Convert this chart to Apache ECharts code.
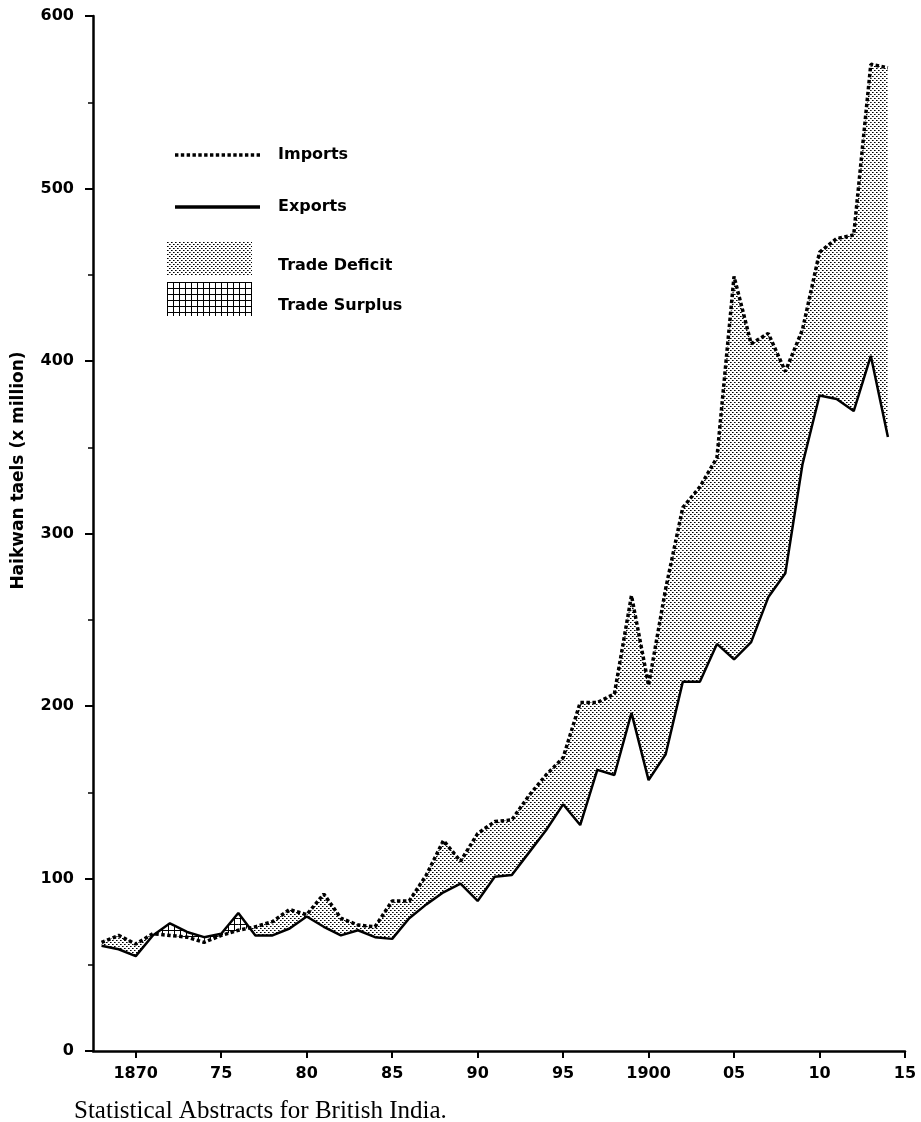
<!DOCTYPE html>
<html>
<head>
<meta charset="utf-8">
<script src="https://cdn.jsdelivr.net/npm/echarts@6/dist/echarts.min.js"></script>
<style>
html,body{margin:0;padding:0;background:#fff;}
#chart{width:921px;height:1122px;}
</style>
</head>
<body>
<div id="chart"></div>
<script>
const years = [1868,1869,1870,1871,1872,1873,1874,1875,1876,1877,1878,1879,1880,1881,1882,1883,1884,1885,1886,1887,1888,1889,1890,1891,1892,1893,1894,1895,1896,1897,1898,1899,1900,1901,1902,1903,1904,1905,1906,1907,1908,1909,1910,1911,1912,1913,1914];
const imports = [63,67,62,68,67,66,63,67,70,72,75,82,79,91,77,73,72,87,87,102,122,110,126,133,134,148,160,170,202,202,207,264,212,268,315,327,344,449,410,416,394,418,463,471,473,572,570];
const exports = [61,59,55,67,74,69,66,68,80,67,67,71,78,72,67,70,66,65,77,85,92,97,87,101,102,115,128,143,131,163,160,196,157,172,214,214,236,227,237,263,277,340,380,378,371,403,356];
const xTickValues = [1870,1875,1880,1885,1890,1895,1900,1905,1910,1915];
const xTickLabels = ['1870','75','80','85','90','95','1900','05','10','15'];
const yTicks = [0,100,200,300,400,500,600];
const yAxisTitle = 'Haikwan taels (x million)';
const sourceText = 'Statistical Abstracts for British India.';

function makeStipple(){
  const c=document.createElement('canvas'); c.width=4; c.height=4;
  const g=c.getContext('2d');
  g.fillStyle='#fff'; g.fillRect(0,0,4,4);
  g.fillStyle='#000'; g.fillRect(0,0,1,1); g.fillRect(2,2,1,1);
  g.fillStyle='#666'; g.fillRect(1,0,1,1); g.fillRect(3,2,1,1);
  return {image:c, repeat:'repeat'};
}
function makeHatch(){
  const c=document.createElement('canvas'); c.width=6; c.height=6;
  const g=c.getContext('2d');
  g.fillStyle='#fff'; g.fillRect(0,0,6,6);
  g.fillStyle='#000'; g.fillRect(0,0,6,1); g.fillRect(0,0,1,6);
  return {image:c, repeat:'repeat'};
}
const stipple = makeStipple();
const hatch = makeHatch();

// legend icon for the dotted line: a row of small squares
let dotPath = 'path://';
for (let k = 0; k < 15; k++) { dotPath += 'M' + (k*6) + ',0h3.5v3.5h-3.5z'; }

const segData = years.slice(0,-1).map((y,i)=>[y,i]);

function fillSeries(name, sign, pattern){
  return {
    type:'custom', name:name, silent:true, z:1,
    itemStyle:{color:pattern},
    encode:{x:0,y:1},
    data:segData,
    renderItem:function(params, api){
      const i = api.value(1);
      const x0 = years[i], x1 = years[i+1];
      const d0 = imports[i]-exports[i], d1 = imports[i+1]-exports[i+1];
      const A0 = api.coord([x0, imports[i]]), A1 = api.coord([x1, imports[i+1]]);
      const B0 = api.coord([x0, exports[i]]), B1 = api.coord([x1, exports[i+1]]);
      const polys = [];
      if (d0*d1 >= 0){
        const s = (d0+d1) > 0 ? 1 : -1;
        if (s === sign && (d0 !== 0 || d1 !== 0)) polys.push([A0,A1,B1,B0]);
      } else {
        const t = d0/(d0-d1);
        const xc = x0 + t*(x1-x0);
        const yc = imports[i] + t*(imports[i+1]-imports[i]);
        const C = api.coord([xc, yc]);
        if ((d0>0?1:-1) === sign) polys.push([A0,C,B0]);
        if ((d1>0?1:-1) === sign) polys.push([C,A1,B1]);
      }
      return {type:'group', children: polys.map(p=>({type:'polygon', shape:{points:p}, style:{fill:pattern, stroke:null}}))};
    }
  };
}

const chart = echarts.init(document.getElementById('chart'), null, {renderer:'canvas'});
const font = 'DejaVu Sans';
chart.setOption({
  backgroundColor:'#fff',
  animation:false,
  title:{
    text:sourceText, left:74, top:1099, padding:0,
    textStyle:{fontFamily:'Liberation Serif', fontSize:25, fontWeight:'normal', color:'#000'}
  },
  grid:{left:93, right:16, top:16, bottom:71},
  legend:[
    {
      orient:'vertical', left:175, top:147, padding:0, itemWidth:85, itemHeight:3.5, itemGap:36,
      selectedMode:false, symbolKeepAspect:false,
      textStyle:{fontFamily:font, fontSize:16, lineHeight:16, fontWeight:'bold', color:'#000', padding:[0,0,0,13]},
      data:[
        {name:'Imports', icon:dotPath, itemStyle:{color:'#000'}},
        {name:'Exports', icon:'rect', itemStyle:{color:'#000'}}
      ]
    },
    {
      orient:'vertical', left:167, top:242, padding:0, itemWidth:85, itemHeight:34, itemGap:6,
      selectedMode:false,
      formatter:'{t|{name}}',
      textStyle:{
        fontFamily:font, fontSize:16, fontWeight:'bold', color:'#000',
        rich:{t:{fontFamily:font, fontSize:16, fontWeight:'bold', color:'#000', padding:[13,0,0,21]}}
      },
      data:[
        {name:'Trade Deficit', icon:'rect', itemStyle:{color:stipple}},
        {name:'Trade Surplus', icon:'rect', itemStyle:{color:hatch}}
      ]
    }
  ],
  xAxis:{
    type:'value', min:1867.5, max:1915,
    axisLine:{lineStyle:{color:'#000', width:2.5}},
    axisTick:{show:true, length:7, lineStyle:{color:'#000', width:2}, customValues:xTickValues},
    axisLabel:{
      customValues:xTickValues, margin:15,
      fontFamily:font, fontSize:16, fontWeight:'bold', color:'#000',
      formatter:function(v){ const k = xTickValues.indexOf(Math.round(v)); return k>=0 ? xTickLabels[k] : ''; }
    },
    splitLine:{show:false}
  },
  yAxis:{
    type:'value', min:yTicks[0], max:yTicks[yTicks.length-1], interval:100,
    name:yAxisTitle, nameLocation:'middle', nameGap:66, nameRotate:90,
    nameTextStyle:{fontFamily:font, fontSize:17, fontWeight:'bold', color:'#000', padding:[0,0,0,126]},
    axisLine:{show:true, lineStyle:{color:'#000', width:2.5}},
    axisTick:{show:true, length:8, lineStyle:{color:'#000', width:2}},
    minorTick:{show:true, splitNumber:2, length:5, lineStyle:{color:'#000', width:1.5}},
    axisLabel:{margin:19, fontFamily:font, fontSize:16, fontWeight:'bold', color:'#000'},
    splitLine:{show:false}, minorSplitLine:{show:false}
  },
  series:[
    fillSeries('Trade Deficit', 1, stipple),
    fillSeries('Trade Surplus', -1, hatch),
    {
      type:'line', name:'Imports', z:3, symbol:'none',
      data:years.map((y,i)=>[y, imports[i]]),
      lineStyle:{color:'#000', width:3.5, type:[3.5,2.5]},
      itemStyle:{color:'#000'}
    },
    {
      type:'line', name:'Exports', z:4, symbol:'none',
      data:years.map((y,i)=>[y, exports[i]]),
      lineStyle:{color:'#000', width:2.5, type:'solid'},
      itemStyle:{color:'#000'}
    }
  ]
});
</script>
</body>
</html>
